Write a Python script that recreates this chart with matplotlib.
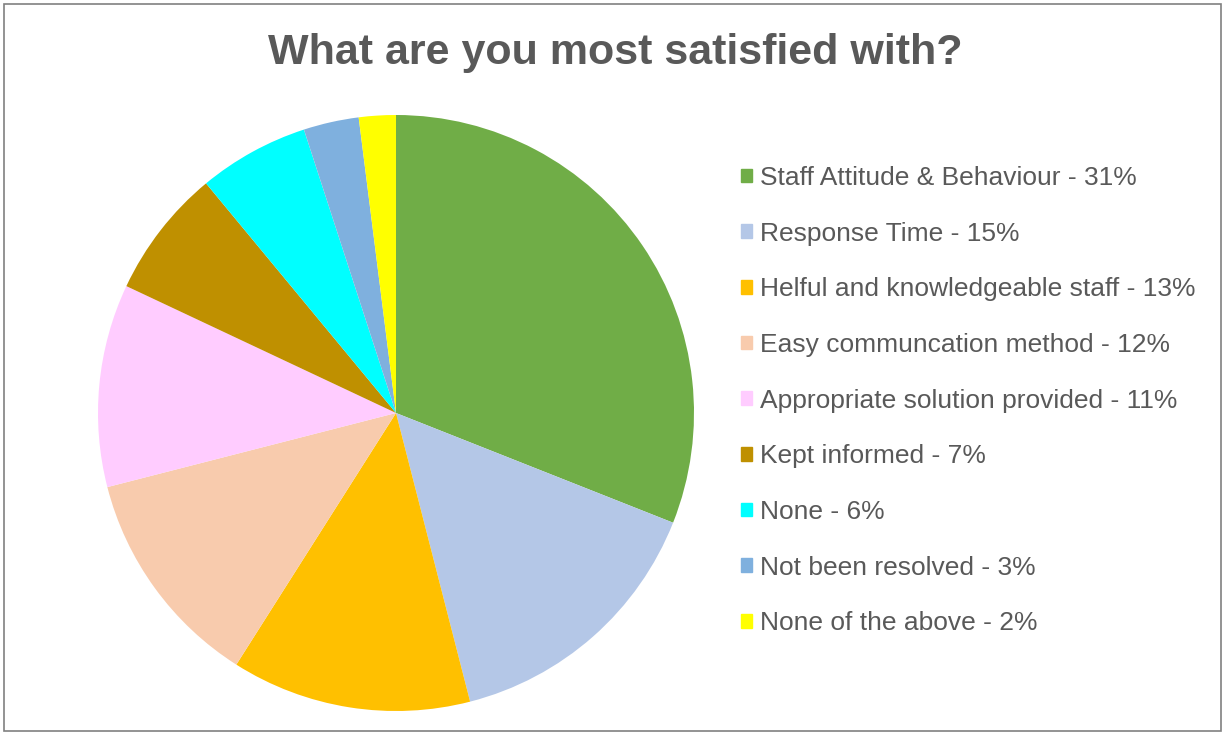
import matplotlib
matplotlib.use("Agg")
from matplotlib import pyplot as plt
from matplotlib.patches import Rectangle

plt.rcParams['font.family'] = ['Liberation Sans', 'DejaVu Sans']

labels = ["Staff Attitude & Behaviour", "Response Time", "Helful and knowledgeable staff",
          "Easy communcation method", "Appropriate solution provided", "Kept informed",
          "None", "Not been resolved", "None of the above"]
percents = [31, 15, 13, 12, 11, 7, 6, 3, 2]
colors = ["#70AD47", "#B4C7E7", "#FFC000", "#F8CBAD", "#FFCCFF", "#BF9000",
          "#00FFFF", "#7FB0DE", "#FFFF00"]

W, H = 1224, 733
fig = plt.figure(figsize=(W / 100, H / 100), dpi=100)

# pie axes: centre (396, 413) px, radius 298 px
cx, cy, r = 396, 413, 298
ax = fig.add_axes([(cx - r) / W, (H - cy - r) / H, 2 * r / W, 2 * r / H])
wedges, _ = ax.pie(percents, colors=colors, startangle=90, counterclock=False,
                   radius=1, wedgeprops={'linewidth': 0})
ax.set_xlim(-1, 1)
ax.set_ylim(-1, 1)
ax.set_aspect('equal')
ax.axis('off')

fig.text(615 / W, 1 - 53 / H, "What are you most satisfied with?", ha='center', va='center',
         fontsize=31, fontweight='bold', color='#595959')

legend_labels = ["{} - {}%".format(l, p) for l, p in zip(labels, percents)]
handles = [Rectangle((0, 0), 1, 1, color=c) for c in colors]
fig.legend(handles, legend_labels, loc='upper left', bbox_to_anchor=(741 / W, 1 - 166 / H),
           frameon=False, fontsize=19, labelcolor='#595959', handlelength=0.42,
           handleheight=0.42, handletextpad=0.3, labelspacing=1.2, borderaxespad=0,
           borderpad=0)

fig.patches.append(Rectangle((4 / W, 2 / H), 1217 / W, 727 / H, transform=fig.transFigure,
                             fill=False, edgecolor='#808080', linewidth=1.2))

plt.savefig('out.png', dpi=100)
